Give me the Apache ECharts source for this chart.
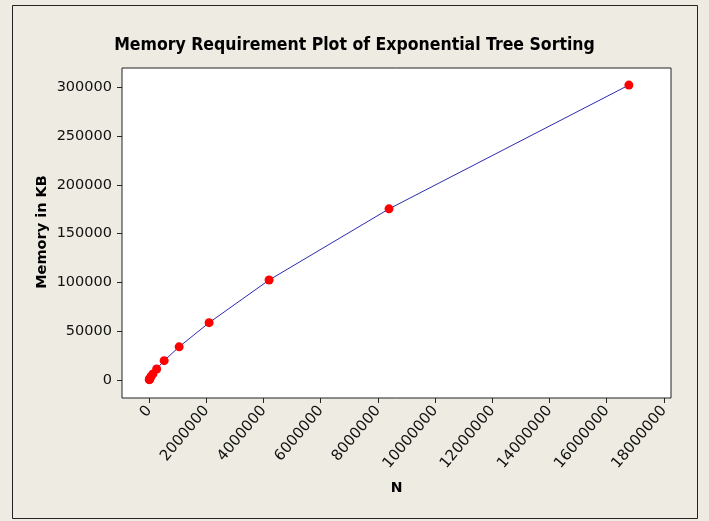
<!DOCTYPE html>
<html><head><meta charset="utf-8">
<script src="https://cdn.jsdelivr.net/npm/echarts@6/dist/echarts.min.js"></script>
<style>html,body{margin:0;padding:0;background:#eeebe2;}#c{width:709px;height:521px;}</style>
</head><body><div id="c"></div>
<script>
const titleText = 'Memory Requirement Plot of Exponential Tree Sorting';
const xName = 'N';
const yName = 'Memory in KB';
const nValues = [4096, 8192, 16384, 32768, 65536, 131072, 262144, 524288, 1048576, 2097152, 4194304, 8388608, 16777216];
const memoryKB = [300, 500, 900, 1900, 3500, 6200, 11300, 19800, 34000, 58800, 102500, 175500, 302500];
const xTicks = [0, 2000000, 4000000, 6000000, 8000000, 10000000, 12000000, 14000000, 16000000, 18000000];
const yTicks = [0, 50000, 100000, 150000, 200000, 250000, 300000];

const chart = echarts.init(document.getElementById('c'), null, {renderer: 'canvas'});
const tickFont = {fontFamily: 'DejaVu Sans', fontSize: 14.5, color: '#111', formatter: v => String(v)};
chart.setOption({
  backgroundColor: '#eeebe2',
  animation: false,
  title: {
    text: titleText, left: 'center', top: 31,
    textStyle: {fontFamily: 'DejaVu Sans Condensed', fontWeight: 'bold', fontSize: 17.5, color: '#000'}
  },
  graphic: [{
    type: 'rect', shape: {x: 12.5, y: 5.5, width: 685, height: 513},
    style: {fill: 'none', stroke: '#222', lineWidth: 1}, silent: true
  }, {
    type: 'text', x: 42, y: 232, rotation: Math.PI / 2,
    style: {text: yName, font: 'bold 14.5px "DejaVu Sans"', fill: '#000', align: 'center', verticalAlign: 'middle'}
  }],
  grid: {left: 122, right: 38, top: 68, bottom: 123, show: true, backgroundColor: '#fff', borderColor: '#222', borderWidth: 1},
  xAxis: {
    type: 'value', min: -950000, max: 18250000,
    name: xName, nameLocation: 'middle', nameGap: 83,
    nameTextStyle: {fontFamily: 'DejaVu Sans', fontWeight: 'bold', fontSize: 14, color: '#000'},
    axisLine: {show: false, onZero: false},
    axisTick: {show: true, length: 5, customValues: xTicks, lineStyle: {color: '#222'}},
    axisLabel: Object.assign({customValues: xTicks, rotate: 50, margin: 10}, tickFont, {fontSize: 15}),
    splitLine: {show: false}
  },
  yAxis: {
    type: 'value', min: -18500, max: 320000,
    axisLine: {show: false, onZero: false},
    axisTick: {show: true, length: 5, customValues: yTicks, lineStyle: {color: '#222'}},
    axisLabel: Object.assign({customValues: yTicks, margin: 10}, tickFont),
    splitLine: {show: false}
  },
  series: [{
    type: 'line',
    data: nValues.map((n, i) => [n, memoryKB[i]]),
    symbol: 'circle', symbolSize: 9,
    itemStyle: {color: '#ff0000'},
    lineStyle: {color: '#2b2bb0', width: 1},
    z: 3
  }]
});
</script></body></html>
